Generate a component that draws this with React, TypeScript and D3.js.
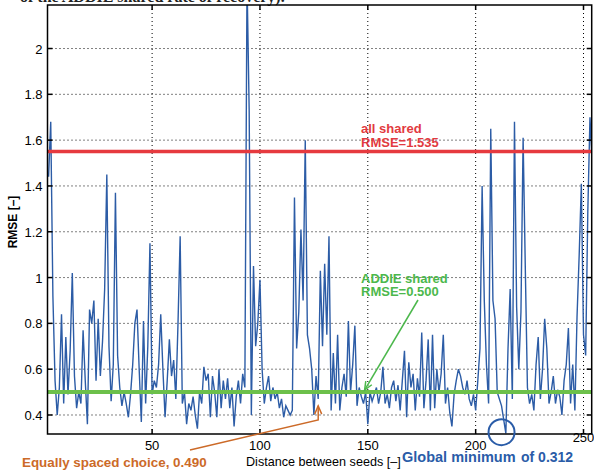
import { useEffect, useRef } from 'react';
import * as d3 from 'd3';

// seed spacing starts at 2
const firstDistance = 2;
const rmse = [
  1.44, 1.68, 0.92, 0.55, 0.40, 0.52, 0.84, 0.45, 0.74, 0.49,
  0.68, 1.02, 0.57, 0.43, 0.50, 0.45, 0.77, 0.55, 0.36, 0.86,
  0.80, 0.90, 0.55, 0.82, 0.57, 0.72, 0.95, 1.45, 0.70, 0.46,
  0.62, 1.37, 0.66, 0.52, 0.44, 0.50, 0.45, 0.39, 0.49, 0.62,
  0.80, 0.86, 0.60, 0.37, 0.81, 0.45, 0.70, 1.15, 0.49, 0.55,
  0.52, 0.62, 0.84, 0.60, 0.39, 0.55, 0.73, 0.57, 0.64, 0.47,
  0.80, 1.18, 0.45, 0.50, 0.36, 0.45, 0.42, 0.48, 0.40, 0.34,
  0.50, 0.45, 0.61, 0.55, 0.58, 0.39, 0.57, 0.50, 0.39, 0.60,
  0.43, 0.55, 0.47, 0.56, 0.43, 0.52, 0.35, 0.48, 0.55, 0.45,
  0.58, 0.52, 2.30, 1.73, 0.40, 1.05, 0.70, 0.80, 0.99, 0.60,
  0.45, 0.52, 0.57, 0.46, 0.52, 0.47, 0.50, 0.43, 0.47, 0.39,
  0.44, 0.42, 0.40, 0.42, 1.35, 0.69, 0.85, 1.21, 0.90, 1.60,
  0.75, 0.69, 0.60, 0.40, 0.57, 0.47, 1.03, 0.70, 1.06, 0.75,
  1.18, 0.42, 0.67, 0.45, 0.75, 0.42, 0.52, 0.58, 0.48, 0.81,
  0.50, 0.62, 0.79, 0.44, 0.52, 0.48, 0.45, 0.50, 0.36, 0.50,
  0.46, 0.49, 0.52, 0.45, 0.50, 0.61, 0.45, 0.49, 0.43, 0.52,
  0.55, 0.46, 0.53, 0.42, 0.55, 0.68, 0.39, 0.63, 0.52, 0.58,
  0.42, 0.56, 0.48, 0.76, 0.43, 0.55, 0.73, 0.42, 0.75, 0.43,
  0.60, 0.50, 0.58, 0.75, 0.45, 0.52, 0.41, 0.35, 0.49, 0.55,
  0.60, 0.57, 0.52, 0.49, 0.55, 0.47, 0.44, 0.49, 0.42, 0.55,
  0.69, 1.40, 0.90, 0.62, 0.45, 1.65, 0.90, 0.82, 0.50, 0.47,
  0.44, 0.38, 0.32, 0.69, 0.95, 0.47, 1.68, 0.87, 0.60, 0.85,
  1.61, 1.05, 0.52, 0.45, 0.49, 0.42, 0.62, 0.74, 0.47, 0.60,
  0.82, 0.69, 0.45, 0.50, 0.57, 0.45, 0.51, 0.48, 0.40, 0.55,
  0.62, 0.78, 0.45, 0.62, 0.42, 0.83, 1.10, 1.41, 0.75, 0.66,
  1.29, 1.70, 1.50,
];
const xTicks = [50, 100, 150, 200, 250];
const yTicks = [0.4, 0.6, 0.8, 1, 1.2, 1.4, 1.6, 1.8, 2];
const allShared = 1.55;
const addieShared = 0.5;
const globalMin = { x: 212, y: 0.325 };
const equalChoice = { x: 127, y: 0.44 };

const App = () => {
  const ref = useRef<SVGSVGElement>(null);

  useEffect(() => {
    document.body.style.margin = '0';
    const width = 594;
    const height = 471;
    const left = 47.5;
    const right = 591.7;
    const top = 5;
    const bottom = 434;
    const font = '"Liberation Sans", Arial, sans-serif';

    const svg = d3.select(ref.current);
    svg.selectAll('*').remove();
    svg.attr('width', width).attr('height', height).style('display', 'block');
    svg.append('rect').attr('width', width).attr('height', height).attr('fill', '#fff');

    // cut-off caption line from the page above
    svg.append('text')
      .attr('x', 20).attr('y', 2)
      .attr('font-family', '"Liberation Serif", serif')
      .attr('font-weight', 'bold').attr('font-size', 16)
      .attr('fill', '#222')
      .text('of the ADDIE shared rate of recovery).');

    const x = d3.scaleLinear().domain([1.5, 253.8]).range([left, right]);
    const y = d3.scaleLinear().domain([0.317, 2.19]).range([bottom, top]);

    svg.append('defs').append('clipPath').attr('id', 'plot')
      .append('rect').attr('x', left).attr('y', top)
      .attr('width', right - left).attr('height', bottom - top);

    const g = svg.append('g');

    // dotted grid
    g.selectAll('line.gx').data(xTicks).enter().append('line')
      .attr('x1', (d) => x(d)).attr('x2', (d) => x(d))
      .attr('y1', top).attr('y2', bottom)
      .attr('stroke', '#000').attr('stroke-width', 1)
      .attr('stroke-dasharray', '1,3');
    g.selectAll('line.gy').data(yTicks).enter().append('line')
      .attr('x1', left).attr('x2', right)
      .attr('y1', (d) => y(d)).attr('y2', (d) => y(d))
      .attr('stroke', '#000').attr('stroke-width', 1)
      .attr('stroke-dasharray', '1,3');

    const line = d3.line<number>()
      .x((d, i) => x(i + firstDistance))
      .y((d) => y(d));

    const plot = g.append('g').attr('clip-path', 'url(#plot)');
    plot.append('path').datum(rmse)
      .attr('d', line)
      .attr('fill', 'none')
      .attr('stroke', '#2c5ca6')
      .attr('stroke-width', 1.4);

    plot.append('line')
      .attr('x1', left).attr('x2', right)
      .attr('y1', y(allShared)).attr('y2', y(allShared))
      .attr('stroke', '#e63a3f').attr('stroke-width', 3.5);
    plot.append('line')
      .attr('x1', left).attr('x2', right)
      .attr('y1', y(addieShared)).attr('y2', y(addieShared))
      .attr('stroke', '#6cc04a').attr('stroke-width', 4);

    // axes box and inward ticks
    g.append('rect')
      .attr('x', left).attr('y', top)
      .attr('width', right - left).attr('height', bottom - top)
      .attr('fill', 'none').attr('stroke', '#000').attr('stroke-width', 1.5);

    const tick = 5;
    xTicks.forEach((d) => {
      g.append('line').attr('x1', x(d)).attr('x2', x(d)).attr('y1', bottom).attr('y2', bottom - tick).attr('stroke', '#000').attr('stroke-width', 1.5);
      g.append('line').attr('x1', x(d)).attr('x2', x(d)).attr('y1', top).attr('y2', top + tick).attr('stroke', '#000').attr('stroke-width', 1.5);
    });
    yTicks.forEach((d) => {
      g.append('line').attr('x1', left).attr('x2', left + tick).attr('y1', y(d)).attr('y2', y(d)).attr('stroke', '#000').attr('stroke-width', 1.5);
      g.append('line').attr('x1', right).attr('x2', right - tick).attr('y1', y(d)).attr('y2', y(d)).attr('stroke', '#000').attr('stroke-width', 1.5);
    });

    g.selectAll('text.ytl').data(yTicks).enter().append('text')
      .attr('x', left - 5).attr('y', (d) => y(d) + 5)
      .attr('text-anchor', 'end')
      .attr('font-family', font).attr('font-size', 13)
      .text((d) => String(d));

    g.selectAll('text.xtl').data(xTicks).enter().append('text')
      .attr('x', (d) => x(d))
      .attr('y', (d) => (d === 250 ? 442 : 450))
      .attr('text-anchor', 'middle')
      .attr('font-family', font).attr('font-size', 13)
      .text((d) => String(d));

    svg.append('text')
      .attr('transform', `translate(17, 222) rotate(-90)`)
      .attr('text-anchor', 'middle')
      .attr('font-family', font).attr('font-size', 12).attr('font-weight', 'bold')
      .text('RMSE [–]');

    svg.append('text')
      .attr('x', 246).attr('y', 466)
      .attr('font-family', font).attr('font-size', 12.6)
      .text('Distance between seeds [–]');

    // annotations
    const red = '#e23a40';
    svg.append('text').attr('x', 361).attr('y', 133)
      .attr('font-family', font).attr('font-size', 13).attr('font-weight', 'bold').attr('fill', red)
      .text('all shared');
    svg.append('text').attr('x', 361).attr('y', 147)
      .attr('font-family', font).attr('font-size', 13).attr('font-weight', 'bold').attr('fill', red)
      .text('RMSE=1.535');

    const green = '#4cb84c';
    svg.append('text').attr('x', 361).attr('y', 283)
      .attr('font-family', font).attr('font-size', 13).attr('font-weight', 'bold').attr('fill', green)
      .text('ADDIE shared');
    svg.append('text').attr('x', 361).attr('y', 296)
      .attr('font-family', font).attr('font-size', 13).attr('font-weight', 'bold').attr('fill', green)
      .text('RMSE=0.500');

    const gx0 = 418, gy0 = 300, gx1 = x(148.5), gy1 = y(addieShared) - 2;
    svg.append('line').attr('x1', gx0).attr('y1', gy0).attr('x2', gx1).attr('y2', gy1)
      .attr('stroke', green).attr('stroke-width', 1.5);
    const ang = Math.atan2(gy1 - gy0, gx1 - gx0);
    const head = (px: number, py: number, a: number, c: string) => {
      svg.append('path')
        .attr('d', `M${px - 9 * Math.cos(a - 0.4)},${py - 9 * Math.sin(a - 0.4)}L${px},${py}L${px - 9 * Math.cos(a + 0.4)},${py - 9 * Math.sin(a + 0.4)}`)
        .attr('fill', 'none').attr('stroke', c).attr('stroke-width', 1.5);
    };
    head(gx1, gy1, ang, green);

    const orange = '#cc6a28';
    const ox = x(equalChoice.x), oy = y(equalChoice.y);
    svg.append('path')
      .attr('d', `M190,450L${ox},420L${ox},${oy}`)
      .attr('fill', 'none').attr('stroke', orange).attr('stroke-width', 1.5);
    head(ox, oy, -Math.PI / 2, orange);
    svg.append('text').attr('x', 22).attr('y', 467)
      .attr('font-family', font).attr('font-size', 13.4).attr('font-weight', 'bold').attr('fill', orange)
      .text('Equally spaced choice, 0.490');

    const blue = '#2a5ca8';
    svg.append('circle')
      .attr('cx', x(globalMin.x)).attr('cy', y(globalMin.y)).attr('r', 13)
      .attr('fill', 'none').attr('stroke', blue).attr('stroke-width', 2);
    svg.append('text').attr('x', 402).attr('y', 462)
      .attr('font-family', font).attr('font-size', 14.5).attr('font-weight', 'bold').attr('fill', blue)
      .text('Global minimum');
    svg.append('text').attr('x', 521).attr('y', 462)
      .attr('font-family', font).attr('font-size', 14).attr('font-weight', 'bold').attr('fill', blue)
      .text('of 0.312');
  }, []);

  return <svg ref={ref}></svg>;
};

export default App;
